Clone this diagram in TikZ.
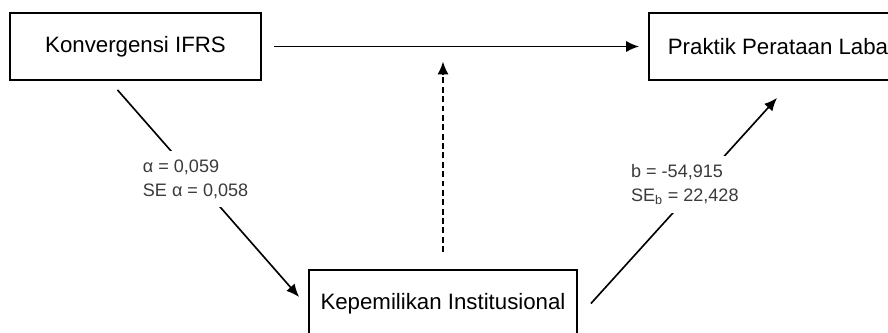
\documentclass[tikz,border=0pt]{standalone}
\usepackage{fontspec}
\setmainfont{Liberation Sans}
\usetikzlibrary{arrows.meta}
\newcommand{\px}{0.03cm}
\newcommand{\bh}{67}
\definecolor{lblgray}{HTML}{3A3A3A}

\begin{document}
\begin{tikzpicture}[
      x=\px, y=-\px, %one unit is one pixel of the picture
      box/.style={draw, line width=1.6pt, minimum height=\bh*\px, inner sep=0pt,
        font=\fontsize{19}{22}\selectfont},
      link/.style={line width=1.4pt, -{Latex[length=11pt,width=9.5pt]}},
      moder/.style={link, dash pattern=on 5pt off 3pt},
      coef/.style={fill=white, text=lblgray, align=left, inner xsep=1pt, inner ysep=7pt,
        font=\fontsize{15.4}{20.5}\selectfont}
    ]
    \useasboundingbox (0,0) rectangle (888,332);
    \clip (0,0) rectangle (888,332);
    % the three variables
    \node[box, minimum width=251*\px] (ifrs) at (135.5,46.5) {Konvergensi IFRS};
    \node[box, minimum width=258*\px] (laba) at (778,46.5) {Praktik Perataan Laba};
    \node[box, minimum width=268*\px] (kepemilikan) at (443,303.5) {Kepemilikan Institusional};
    % direct path
    \draw[link, shorten <=12*\px, shorten >=9*\px] (ifrs.east) -- coordinate[pos=0.463] (mid) (laba.west);
    % moderating path
    \draw[moder, shorten <=17*\px, shorten >=15*\px] (kepemilikan.north) -- (kepemilikan.north |- mid);
    % path a
    \draw[link] ([shift={(-18,9)}]ifrs.south) -- node[coef, pos=0.43] {α = 0,059\\SE α = 0,058} ([shift={(-9,-6.5)}]kepemilikan.west);
    % path b
    \draw[link] ([shift={(13,0)}]kepemilikan.east) -- node[coef, pos=0.58, xshift=-14*\px] {b = -54,915\\SE\textsubscript{b} = 22,428} ([shift={(-1,17)}]laba.south);
    \end{tikzpicture}
\end{document}
